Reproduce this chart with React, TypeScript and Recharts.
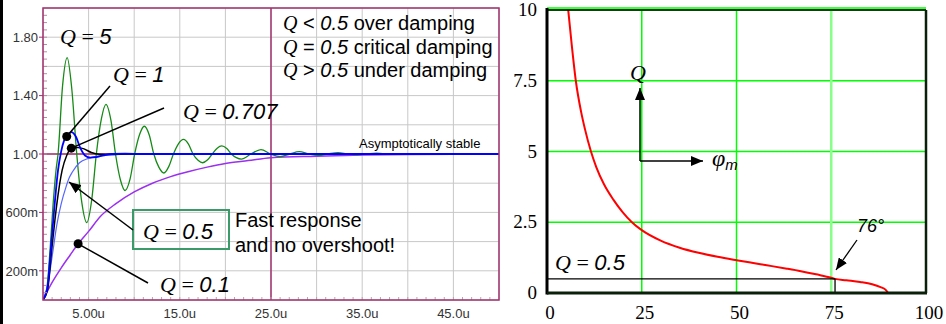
import React from 'react'
import {
  LineChart,
  Line,
  XAxis,
  YAxis,
  CartesianGrid,
  ReferenceLine,
  ReferenceDot,
} from 'recharts'

// ─── Step response (time in µs) ──────────────────────────────────
const q5Time = [
  0, 0.4, 0.77, 1.1, 1.43, 1.65, 2.15, 2.65, 3.15, 3.7, 4.25, 4.8, 5.35, 5.85, 6.4, 6.9,
  7.45, 7.95, 8.5, 9.0, 9.55, 10.05, 10.6, 11.1, 11.65, 12.15, 12.7, 13.25, 13.8, 14.3,
  14.85, 15.4, 15.95, 16.45, 17.0, 17.5, 18.05, 18.55, 19.1, 19.6, 20.15, 20.65, 21.2,
  21.75, 22.8, 23.9, 24.95, 26.0, 27.05, 28.1, 29.15, 30.2, 31.25, 32.35, 33.4, 34.45,
  35.5, 36.6, 37.65, 38.7, 39.75, 40.8, 42, 45, 50,
]
const q5Out = [
  0, 0.07, 0.34, 0.65, 0.89, 1.0, 1.47, 1.66, 1.45, 1.0, 0.67, 0.53, 0.69, 1.0, 1.24, 1.34,
  1.23, 1.0, 0.82, 0.75, 0.83, 1.0, 1.135, 1.19, 1.13, 1.0, 0.91, 0.87, 0.915, 1.0,
  1.07, 1.1, 1.068, 1.0, 0.957, 0.94, 0.96, 1.0, 1.04, 1.055, 1.037, 1.0, 0.975,
  0.965, 1.0, 1.03, 1.0, 0.982, 1.0, 1.016, 1.0, 0.99, 1.0, 1.009, 1.0, 0.995,
  1.0, 1.005, 1.0, 0.997, 1.0, 1.002, 1.0, 1.0, 1.0,
]

const q1Time = [0, 0.5, 0.85, 1.2, 1.65, 2.0, 2.3, 2.6, 3.1, 3.6, 4.1, 4.6, 5.2, 5.8, 6.6, 7.5, 9, 11, 50]
const q1Out = [0, 0.09, 0.34, 0.6, 0.89, 1.02, 1.09, 1.12, 1.15, 1.12, 1.04, 0.99, 0.975, 0.978, 0.99, 1.0, 1.003, 1.0, 1.0]

const q0707Time = [0, 0.5, 0.95, 1.5, 2.1, 2.6, 3.1, 3.8, 4.5, 5.3, 6.2, 7.5, 9, 50]
const q0707Out = [0, 0.07, 0.34, 0.65, 0.89, 0.99, 1.04, 1.045, 1.035, 1.01, 0.998, 0.997, 1.0, 1.0]

const q05Time = [0, 0.5, 1.1, 1.5, 2.0, 2.5, 2.9, 3.2, 4, 5, 6, 7, 8.5, 12, 50]
const q05Out = [0, 0.1, 0.34, 0.51, 0.66, 0.77, 0.84, 0.875, 0.94, 0.97, 0.985, 0.992, 0.997, 1.0, 1.0]

const q01Time = [0, 1, 2, 3, 3.85, 5, 6.26, 8, 10, 12, 14, 16, 18, 20, 22.5, 25, 30, 35, 40, 50]
const q01Out = [0, 0.12, 0.22, 0.31, 0.385, 0.47, 0.57, 0.66, 0.74, 0.8, 0.845, 0.88, 0.91, 0.935, 0.955, 0.975, 0.985, 0.993, 0.997, 1.0]

// marked points on the curves: [time, output]
const q1Mark = [2.6, 1.12]
const q0707Mark = [3.1, 1.04]
const q01Mark = [3.85, 0.385]

const stepXTicks = [0, 5, 10, 15, 20, 25, 30, 35, 40, 45, 50]
const stepXLabelValues = [5, 15, 25, 35, 45]
const stepXLabelText = ['5.00u', '15.0u', '25.0u', '35.0u', '45.0u']
const stepYTicks = [0, 0.2, 0.4, 0.6, 0.8, 1.0, 1.2, 1.4, 1.6, 1.8, 2.0]
const stepYLabelValues = [0.2, 0.6, 1.0, 1.4, 1.8]
const stepYLabelText = ['200m', '600m', '1.00', '1.40', '1.80']

// ─── Q versus phase margin ───────────────────────────────────────
const phiDeg = [
  5.6, 6.5, 7.6, 9, 10, 11.6, 13, 15, 17.5, 20, 22.4, 25, 30, 35, 40, 45, 50, 54.4, 58,
  63.3, 67, 71, 75, 76, 79, 82.6, 85.8, 88, 89.3, 90,
]
const qOfPhi = [
  10, 8.8, 7.5, 6.4, 5.8, 5.0, 4.45, 3.85, 3.3, 2.85, 2.5, 2.22, 1.85, 1.6, 1.42, 1.28, 1.16, 1.06, 0.98,
  0.86, 0.77, 0.66, 0.54, 0.5, 0.45, 0.39, 0.31, 0.21, 0.12, 0,
]
const phiTicks = [0, 25, 50, 75, 100]
const qTicks = [0, 2.5, 5, 7.5, 10]
const qTickText = ['0', '2.5', '5', '7.5', '10']
const qCritical = 0.5
const phiCritical = 76

const toPoints = (xs: number[], ys: number[]) => xs.map((t, i) => ({ t, v: ys[i] }))

// step chart plot box
const SL = 43, ST = 8, SR = 499, SB = 300
const sx = (t: number) => SL + (t / 50) * (SR - SL)
const sy = (v: number) => SB - (v / 2) * (SB - ST)

// phase chart plot box (local to its panel)
const PL = 47, PT = 10, PR = 426, PB = 293

const SANS = '"Liberation Sans", Arial, sans-serif'
const SERIF = '"Liberation Serif", "Times New Roman", serif'

function StepXTick(props: any) {
  const { x, payload } = props
  const i = stepXLabelValues.indexOf(payload.value)
  if (i < 0) return <g />
  return (
    <text x={x} y={318} textAnchor="middle" fontFamily={SANS} fontSize={13} fill="#333">
      {stepXLabelText[i]}
    </text>
  )
}

function StepYTick(props: any) {
  const { y, payload } = props
  const i = stepYLabelValues.indexOf(payload.value)
  if (i < 0) return <g />
  return (
    <g>
      <line x1={SL - 4} x2={SL} y1={y} y2={y} stroke="#a3316f" strokeWidth={1} />
      <text x={38} y={y + 4.7} textAnchor="end" fontFamily={SANS} fontSize={13} fill="#333">
        {stepYLabelText[i]}
      </text>
    </g>
  )
}

function PhiTick(props: any) {
  const { x, payload } = props
  return (
    <text x={x + 3} y={319} textAnchor="middle" fontFamily={SERIF} fontSize={19} fill="#000">
      {payload.value}
    </text>
  )
}

function QTick(props: any) {
  const { y, payload } = props
  const i = qTicks.indexOf(payload.value)
  return (
    <text x={37} y={y + 6} textAnchor="end" fontFamily={SERIF} fontSize={19} fill="#000">
      {qTickText[i]}
    </text>
  )
}

function QLabel({ x, y, value, size = 22 }: { x: number; y: number; value: string; size?: number }) {
  return (
    <text x={x} y={y} fontSize={size} fill="#000">
      <tspan fontFamily={SERIF} fontStyle="italic">Q</tspan>
      <tspan fontFamily={SERIF}> = </tspan>
      <tspan fontFamily={SANS} fontStyle="italic">{value}</tspan>
    </text>
  )
}

function LegendRow({ y, op, value, text }: { y: number; op: string; value: string; text: string }) {
  return (
    <text x={283} y={y} fontSize={20} fill="#000">
      <tspan fontFamily={SERIF} fontStyle="italic">Q</tspan>
      <tspan fontFamily={SANS}> {op} </tspan>
      <tspan fontFamily={SANS} fontStyle="italic">{value}</tspan>
      <tspan fontFamily={SANS}> {text}</tspan>
    </text>
  )
}

function StepResponse() {
  const minorY = Array.from({ length: 39 }, (_, i) => (i + 1) * 0.05)
  const minorX = Array.from({ length: 49 }, (_, i) => i + 1)
  return (
    <div style={{ position: 'absolute', left: 0, top: 0, width: 500, height: 324 }}>
      <LineChart width={500} height={324} margin={{ top: ST, right: 1, bottom: 0, left: 0 }}>
        <CartesianGrid stroke="#c8c8c8" strokeWidth={1} />
        <XAxis
          dataKey="t"
          type="number"
          domain={[0, 50]}
          ticks={stepXTicks}
          interval={0}
          allowDataOverflow
          height={324 - SB}
          axisLine={false}
          tickLine={false}
          tickSize={0}
          tick={StepXTick}
        />
        <YAxis
          type="number"
          domain={[0, 2]}
          ticks={stepYTicks}
          interval={0}
          allowDataOverflow
          width={SL}
          axisLine={false}
          tickLine={false}
          tick={StepYTick}
        />
        <ReferenceLine y={1} stroke="#a3316f" strokeWidth={1.5} />
        <ReferenceLine x={25} stroke="#a3316f" strokeWidth={1.5} />
        <Line data={toPoints(q01Time, q01Out)} dataKey="v" type="monotone" stroke="#9b30f0" strokeWidth={1.5} dot={false} isAnimationActive={false} />
        <Line data={toPoints(q5Time, q5Out)} dataKey="v" type="monotone" stroke="#168a16" strokeWidth={1.3} dot={false} isAnimationActive={false} />
        <Line data={toPoints(q05Time, q05Out)} dataKey="v" type="monotone" stroke="#5566ff" strokeWidth={1.2} dot={false} isAnimationActive={false} />
        <Line data={toPoints(q0707Time, q0707Out)} dataKey="v" type="monotone" stroke="#000000" strokeWidth={1.5} dot={false} isAnimationActive={false} />
        <Line data={toPoints(q1Time, q1Out)} dataKey="v" type="monotone" stroke="#0000ff" strokeWidth={1.8} dot={false} isAnimationActive={false} />
        <ReferenceDot x={q1Mark[0]} y={q1Mark[1]} r={4.5} fill="#000" stroke="none" />
        <ReferenceDot x={q0707Mark[0]} y={q0707Mark[1]} r={4.5} fill="#000" stroke="none" />
        <ReferenceDot x={q01Mark[0]} y={q01Mark[1]} r={4.5} fill="#000" stroke="none" />
      </LineChart>

      <svg width={500} height={324} style={{ position: 'absolute', left: 0, top: 0, pointerEvents: 'none' }}>
        <defs>
          <marker id="headL" markerWidth={12} markerHeight={10} refX={12} refY={5} orient="auto" markerUnits="userSpaceOnUse">
            <path d="M0,0 L12,5 L0,10 z" fill="#000" />
          </marker>
        </defs>
        <rect x={0} y={0} width={3} height={324} fill="#000" />
        {minorY.map((v) => (
          <line key={'my' + v} x1={SL} x2={SL + 4} y1={sy(v)} y2={sy(v)} stroke="#b98aa3" strokeWidth={1} />
        ))}
        {minorX.map((t) => (
          <line key={'mx' + t} x1={sx(t)} x2={sx(t)} y1={SB} y2={SB - 3} stroke="#aaa" strokeWidth={1} />
        ))}
        <rect x={SL} y={ST} width={SR - SL} height={SB - ST} fill="none" stroke="#a3316f" strokeWidth={1.5} />

        <QLabel x={60} y={44} value="5" />
        <QLabel x={113} y={82} value="1" />
        <QLabel x={183} y={119} value="0.707" />
        <line x1={110} y1={86} x2={sx(q1Mark[0])} y2={sy(q1Mark[1])} stroke="#000" strokeWidth={1.5} />
        <line x1={164} y1={108} x2={sx(q0707Mark[0])} y2={sy(q0707Mark[1])} stroke="#000" strokeWidth={1.5} />

        <LegendRow y={30} op="<" value="0.5" text="over damping" />
        <LegendRow y={54} op="=" value="0.5" text="critical damping" />
        <LegendRow y={77} op=">" value="0.5" text="under damping" />
        <text x={359} y={148} fontFamily={SANS} fontSize={13} fill="#000">Asymptotically stable</text>

        <rect x={133} y={210} width={96} height={39} fill="none" stroke="#3a9a6a" strokeWidth={2} />
        <QLabel x={143} y={239} value="0.5" />
        <line x1={133} y1={230} x2={69} y2={182} stroke="#000" strokeWidth={1.5} markerEnd="url(#headL)" />
        <text x={235} y={227} fontFamily={SANS} fontSize={20} fill="#000">Fast response</text>
        <text x={235} y={252} fontFamily={SANS} fontSize={20} fill="#000">and no overshoot!</text>

        <QLabel x={160} y={292} value="0.1" />
        <line x1={148} y1={283} x2={sx(q01Mark[0])} y2={sy(q01Mark[1])} stroke="#000" strokeWidth={1.5} />
      </svg>
    </div>
  )
}

function PhaseMargin() {
  return (
    <div style={{ position: 'absolute', left: 500, top: 0, width: 446, height: 324 }}>
      <LineChart width={446} height={324} margin={{ top: PT, right: 446 - PR, bottom: 0, left: 0 }}>
        <CartesianGrid stroke="#00ff00" strokeWidth={1.5} />
        <XAxis
          dataKey="t"
          type="number"
          domain={[0, 100]}
          ticks={phiTicks}
          interval={0}
          allowDataOverflow
          height={324 - PB}
          axisLine={false}
          tickLine={false}
          tickSize={0}
          tick={PhiTick}
        />
        <YAxis
          type="number"
          domain={[0, 10]}
          ticks={qTicks}
          interval={0}
          allowDataOverflow
          width={PL}
          axisLine={false}
          tickLine={false}
          tick={QTick}
        />
        <ReferenceLine x={75} stroke="#88ff88" strokeWidth={2.5} />
        <Line data={toPoints(phiDeg, qOfPhi)} dataKey="v" type="monotone" stroke="#ff0000" strokeWidth={2} dot={false} isAnimationActive={false} />
        <ReferenceLine segment={[{ x: 0, y: qCritical }, { x: phiCritical, y: qCritical }]} stroke="#000" strokeWidth={1.3} />
        <ReferenceLine segment={[{ x: phiCritical, y: qCritical }, { x: phiCritical, y: 0 }]} stroke="#000" strokeWidth={1.3} />
      </LineChart>

      <svg width={446} height={324} style={{ position: 'absolute', left: 0, top: 0, pointerEvents: 'none' }}>
        <defs>
          <marker id="headR" markerWidth={12} markerHeight={10} refX={12} refY={5} orient="auto" markerUnits="userSpaceOnUse">
            <path d="M0,0 L12,5 L0,10 z" fill="#000" />
          </marker>
        </defs>
        <line x1={PL} x2={PR} y1={PT - 2} y2={PT - 2} stroke="#00ff00" strokeWidth={1.5} />
        <line x1={PL} x2={PR} y1={PT} y2={PT} stroke="#000" strokeWidth={1.5} />
        <line x1={PR} x2={PR} y1={PT} y2={PB} stroke="#0a200a" strokeWidth={2.5} />
        <line x1={PL} x2={PL} y1={PT - 2} y2={PB + 1.5} stroke="#000" strokeWidth={3} />
        <line x1={PL} x2={PR + 1} y1={PB} y2={PB} stroke="#0a200a" strokeWidth={3} />

        <text x={130} y={80} fontFamily={SERIF} fontStyle="italic" fontSize={22} fill="#000">Q</text>
        <line x1={140} y1={161} x2={140} y2={88} stroke="#000" strokeWidth={1.5} markerEnd="url(#headR)" />
        <line x1={140} y1={161} x2={203} y2={161} stroke="#000" strokeWidth={1.5} markerEnd="url(#headR)" />
        <text x={212} y={166} fill="#000">
          <tspan fontFamily={SERIF} fontStyle="italic" fontSize={24}>φ</tspan>
          <tspan fontFamily={SANS} fontStyle="italic" fontSize={15} dy={4}>m</tspan>
        </text>

        <QLabel x={55} y={270} value="0.5" />
        <text x={357} y={232} fontFamily={SANS} fontStyle="italic" fontSize={18} fill="#000">76°</text>
        <line x1={357} y1={240} x2={336} y2={270} stroke="#000" strokeWidth={1.3} markerEnd="url(#headR)" />
      </svg>
    </div>
  )
}

export default function App() {
  return (
    <div style={{ position: 'fixed', left: 0, top: 0, width: 946, height: 324, background: '#fff' }}>
      <StepResponse />
      <PhaseMargin />
    </div>
  )
}
